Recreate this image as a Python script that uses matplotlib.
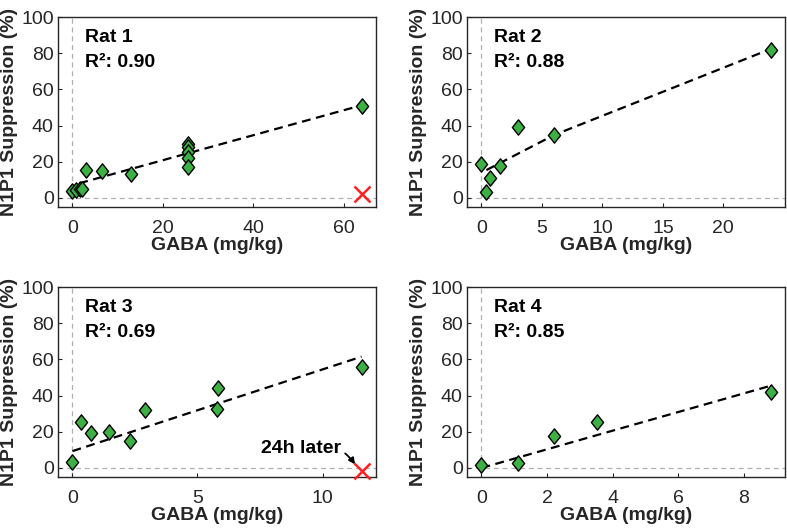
import numpy as np
import matplotlib
matplotlib.use("Agg")
import matplotlib.pyplot as plt
from matplotlib.path import Path

plt.rcParams["font.family"] = ["Liberation Sans", "DejaVu Sans"]

# Dosis (mg/kg) und N1P1-Unterdrueckung (%) je Ratte
rat1_x = [0.0, 0.8, 1.6, 2.2, 3.1, 6.5, 12.9, 25.5, 25.5, 25.5, 25.5, 25.5, 63.9]
rat1_y = [4.0, 4.5, 5.0, 5.0, 15.5, 14.8, 13.3, 30.0, 28.0, 25.5, 22.0, 17.0, 51.0]
rat2_x = [0.0, 0.41, 0.74, 1.51, 3.06, 6.01, 23.9]
rat2_y = [18.7, 3.3, 10.8, 17.6, 39.4, 34.8, 81.5]
rat3_x = [0.0, 0.36, 0.75, 1.48, 2.32, 2.92, 5.79, 5.83, 11.56]
rat3_y = [3.2, 25.6, 19.4, 19.6, 14.8, 31.8, 32.4, 44.3, 55.6]
rat4_x = [0.0, 1.12, 2.22, 3.52, 8.82]
rat4_y = [1.8, 2.6, 17.8, 25.4, 41.7]

# Fit-Linien
fit1_x = [1.5, 63.9]
fit1_y = [8.1, 51.2]
fit2_x = [0.41, 6.01, 23.9]
fit2_y = [15.4, 34.8, 82.3]
fit3_x = [0.0, 11.56]
fit3_y = [9.3, 61.5]
fit4_x = [0.0, 8.82]
fit4_y = [0.0, 45.4]

# "24h later"-Messungen (rotes X)
late1 = (63.9, 2.2)
late3 = (11.56, -1.5)

r2_values = ["0.90", "0.88", "0.69", "0.85"]
xticks = [[0, 20, 40, 60], [0, 5, 10, 15, 20], [0, 5, 10], [0, 2, 4, 6, 8]]

GREEN = "#3cb043"
DARK = "#262626"

# MATLAB-artige Raute (breiter als 'd')
diamond = Path([(0, 1), (0.8, 0), (0, -1), (-0.8, 0), (0, 1)],
               [Path.MOVETO, Path.LINETO, Path.LINETO, Path.LINETO, Path.CLOSEPOLY])

W, H = 787, 531
fig = plt.figure(figsize=(W / 100, H / 100), dpi=100)

boxes = [(58, 17), (467, 17), (58, 287), (467, 287)]
aw, ah = 318, 190

data = [(rat1_x, rat1_y, fit1_x, fit1_y, late1),
        (rat2_x, rat2_y, fit2_x, fit2_y, None),
        (rat3_x, rat3_y, fit3_x, fit3_y, late3),
        (rat4_x, rat4_y, fit4_x, fit4_y, None)]

for i, ((px, py), (x, y, fx, fy, late)) in enumerate(zip(boxes, data)):
    ax = fig.add_axes([px / W, 1 - (py + ah) / H, aw / W, ah / H])

    xmax = max(x)
    ax.set_xlim(-0.05 * xmax, 1.05 * xmax)
    ax.set_ylim(-5, 100)

    ax.axhline(0, color="#b0b0b0", lw=0.9, ls=(0, (4, 3)), zorder=1)
    ax.axvline(0, color="#b0b0b0", lw=0.9, ls=(0, (4, 3)), zorder=1)

    ax.plot(fx, fy, color="black", lw=1.6, ls=(0, (4, 2.5)), zorder=2)
    ax.plot(x, y, ls="none", marker=diamond, markersize=11,
            markerfacecolor=GREEN, markeredgecolor="black", markeredgewidth=1.0,
            zorder=3)

    if late is not None:
        ax.plot([late[0]], [late[1]], ls="none", marker="x", markersize=11,
                markeredgewidth=1.8, color="#ff2020", zorder=4, clip_on=False)

    if i == 2:
        ax.annotate("24h later", xy=(11.3, 2.0), xytext=(10.75, 10.5),
                    fontsize=14, fontweight="bold", ha="right", va="center",
                    arrowprops=dict(arrowstyle="-|>", color="black", lw=1.3,
                                    mutation_scale=9,
                                    connectionstyle="arc3,rad=-0.4",
                                    shrinkA=1, shrinkB=0))

    ax.text(0.085, 0.935, f"Rat {i + 1}", transform=ax.transAxes,
            fontsize=14, fontweight="bold", va="top", ha="left")
    ax.text(0.085, 0.805, f"R²: {r2_values[i]}", transform=ax.transAxes,
            fontsize=14, fontweight="bold", va="top", ha="left")

    ax.set_xticks(xticks[i])
    ax.set_yticks([0, 20, 40, 60, 80, 100])
    ax.tick_params(direction="in", length=3, width=0.8, colors=DARK,
                   labelsize=14, top=False, right=False)
    ax.tick_params(axis="x", pad=9.5)
    ax.tick_params(axis="y", pad=3)
    for s in ax.spines.values():
        s.set_color(DARK)
        s.set_linewidth(1.0)

    ax.set_xlabel("GABA (mg/kg)", fontsize=14, fontweight="bold", color=DARK,
                  labelpad=0)
    ax.set_ylabel("N1P1 Suppression (%)", fontsize=14, fontweight="bold",
                  color=DARK, labelpad=2)

fig.savefig("out.png", dpi=100)
